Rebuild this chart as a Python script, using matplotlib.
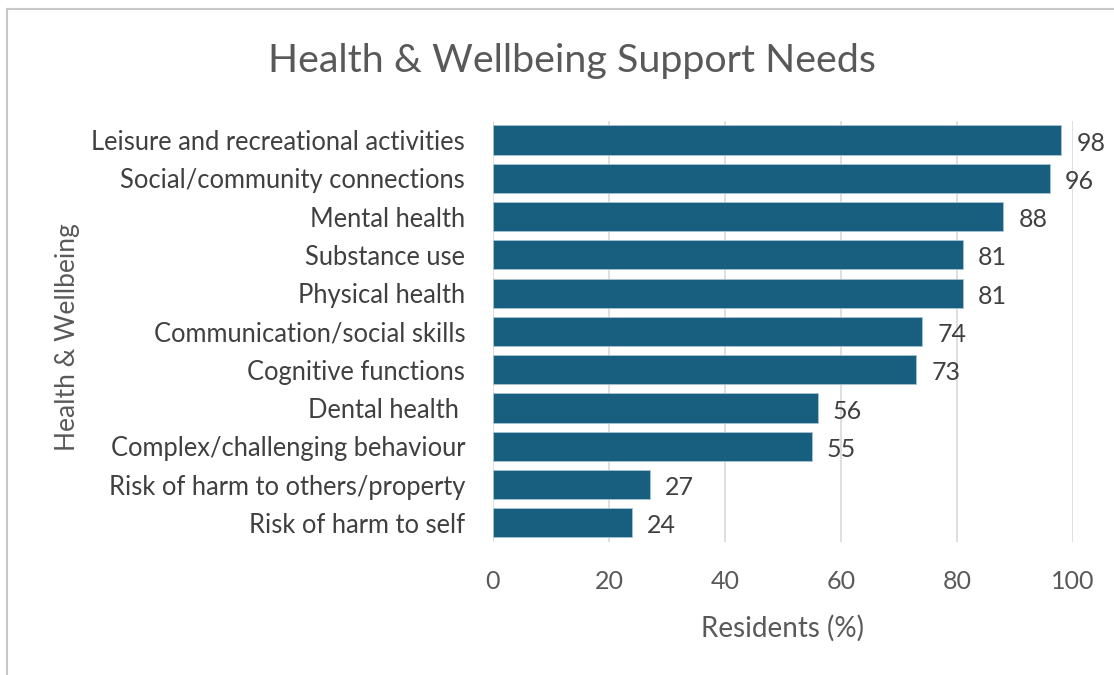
import matplotlib.pyplot as plt
from matplotlib.lines import Line2D

categories = [
    "Leisure and recreational activities",
    "Social/community connections",
    "Mental health",
    "Substance use",
    "Physical health",
    "Communication/social skills",
    "Cognitive functions",
    "Dental health ",
    "Complex/challenging behaviour",
    "Risk of harm to others/property",
    "Risk of harm to self",
]
values = [98, 96, 88, 81, 81, 74, 73, 56, 55, 27, 24]
x_ticks = [0, 20, 40, 60, 80, 100]

plt.rcParams['font.family'] = ['Lato', 'DejaVu Sans']
text_color = '#595959'

fig = plt.figure(figsize=(11.14, 6.75), dpi=100)
ax = fig.add_axes([0.4425, 0.197, 0.5207, 0.624])

pos = list(range(len(categories)))
bars = ax.barh(pos, values, height=0.76, color='#175E7F', edgecolor='#a9c4d3', linewidth=0.6, zorder=3)
for b, v in zip(bars, values):
    ax.text(b.get_width() + 2.6, b.get_y() + b.get_height() / 2 + 0.08, str(v),
            va='center', ha='left', fontsize=18, color='#404040')

ax.set_ylim(len(categories) - 0.5, -0.5)
ax.set_xlim(0, 100)
ax.set_yticks(pos)
ax.set_yticklabels(categories, fontsize=18.4, color='#404040')
ax.set_xticks(x_ticks)
ax.set_xticklabels([str(t) for t in x_ticks], fontsize=18, color=text_color)
ax.tick_params(axis='both', length=0)
ax.tick_params(axis='x', pad=20)
ax.tick_params(axis='y', pad=20)
ax.grid(axis='x', color='#d9d9d9', linewidth=1.2, zorder=0)
for s in ax.spines.values():
    s.set_visible(False)

ax.set_xlabel("Residents (%)", fontsize=20, color=text_color, labelpad=16)
fig.text(0.061, 0.5, "Health & Wellbeing", rotation=90, va='center', ha='center',
         fontsize=19, color=text_color)
fig.text(0.513, 0.91, "Health & Wellbeing Support Needs", ha='center', va='center',
         fontsize=28.4, color=text_color)

# outer chart frame (left and top edges)
fig.add_artist(Line2D([0.0063, 0.0063], [0.0, 0.987], transform=fig.transFigure, color='#c8c8c8', linewidth=1.5))
fig.add_artist(Line2D([0.0063, 1.0], [0.987, 0.987], transform=fig.transFigure, color='#c8c8c8', linewidth=1.5))

fig.savefig('out.png', dpi=100, facecolor='white')
